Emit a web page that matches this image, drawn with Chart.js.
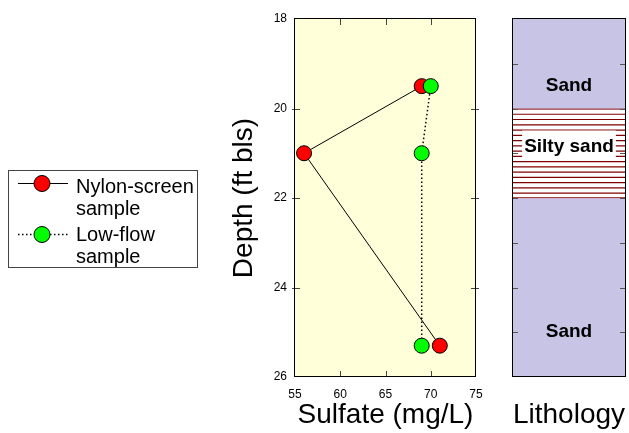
<!DOCTYPE html>
<html>
<head>
<meta charset="utf-8">
<script src="https://cdn.jsdelivr.net/npm/chart.js@4.4.0/dist/chart.umd.min.js"></script>
<style>
  html, body { margin: 0; padding: 0; background: #fff; }
  #wrap { position: relative; width: 629px; height: 433px; }
  canvas { position: absolute; left: 0; top: 0; }
</style>
</head>
<body>
<div id="wrap">
  <canvas id="sulfateChart" width="629" height="433"></canvas>
  <canvas id="lithChart" width="629" height="433"></canvas>
</div>
<script>
// sample data
const depths = [19.5, 21, 25.3];
const nylonSulfate = [69, 56, 71];
const lowFlowSulfate = [70, 69, 69];
const seriesLabels = [['Nylon-screen', 'sample'], ['Low-flow', 'sample']];

// axis ticks
const sulfateTicks = [55, 60, 65, 70, 75];
const depthTicks = [18, 20, 22, 24, 26];
const innerSulfateTicks = [60, 65, 70];
const innerDepthTicks = [20, 22, 24];

// lithology column
const layerNames = ['Sand', 'Silty sand', 'Sand'];
const layerTops = [18, 20, 22];
const layerBottoms = [20, 22, 26];
const layerHatched = [false, true, false];
const layerLabelDepths = [19.5, 20.85, 25];
const lithTicks = [19, 20, 21, 22, 23, 24, 25];

const FONT = "'Liberation Sans', Arial, Helvetica, sans-serif";
Chart.defaults.font.family = FONT;
Chart.defaults.color = '#000';

const toPoints = (xs) => xs.map((v, i) => ({ x: v, y: depths[i] }));

// plot background, frame and inward ticks
const plotFrame = {
  id: 'plotFrame',
  beforeDatasetsDraw(chart) {
    const { ctx, chartArea: a, scales: { x, y } } = chart;
    ctx.save();
    ctx.fillStyle = '#ffffda';
    ctx.fillRect(a.left, a.top, a.right - a.left, a.bottom - a.top);
    ctx.strokeStyle = '#444';
    ctx.lineWidth = 1;
    ctx.beginPath();
    innerSulfateTicks.forEach(v => {
      const px = Math.round(x.getPixelForValue(v)) + 0.5;
      ctx.moveTo(px, a.top); ctx.lineTo(px, a.top + 6);
      ctx.moveTo(px, a.bottom); ctx.lineTo(px, a.bottom - 6);
    });
    innerDepthTicks.forEach(v => {
      const py = Math.round(y.getPixelForValue(v)) + 0.5;
      ctx.moveTo(a.left - 3, py); ctx.lineTo(a.left + 5, py);
      ctx.moveTo(a.right + 3, py); ctx.lineTo(a.right - 5, py);
    });
    ctx.stroke();
    ctx.strokeStyle = '#000';
    ctx.strokeRect(a.left - 0.5, a.top - 0.5, a.right - a.left, a.bottom - a.top);
    ctx.restore();
  }
};

// boxed legend on the left
const sideLegend = {
  id: 'sideLegend',
  afterDraw(chart) {
    const { ctx } = chart;
    ctx.save();
    ctx.strokeStyle = '#444';
    ctx.lineWidth = 1;
    ctx.strokeRect(8.5, 170.5, 189, 97);
    ctx.font = `20px ${FONT}`;
    ctx.textAlign = 'left';
    ctx.textBaseline = 'alphabetic';
    chart.data.datasets.forEach((ds, i) => {
      const cy = 183.5 + i * 51;
      ctx.strokeStyle = ds.borderColor;
      ctx.lineWidth = ds.borderWidth;
      ctx.setLineDash(ds.borderDash || []);
      ctx.beginPath();
      ctx.moveTo(18, cy); ctx.lineTo(68, cy);
      ctx.stroke();
      ctx.setLineDash([]);
      ctx.beginPath();
      ctx.arc(42, cy, 8, 0, Math.PI * 2);
      ctx.fillStyle = ds.pointBackgroundColor;
      ctx.fill();
      ctx.strokeStyle = ds.pointBorderColor;
      ctx.lineWidth = 1;
      ctx.stroke();
      ctx.fillStyle = '#000';
      seriesLabels[i].forEach((t, k) => ctx.fillText(t, 76, 193 + i * 48 + k * 22));
    });
    ctx.restore();
  }
};

new Chart(document.getElementById('sulfateChart'), {
  type: 'scatter',
  data: {
    datasets: [
      {
        label: seriesLabels[0].join(' '),
        data: toPoints(nylonSulfate),
        showLine: true,
        borderColor: '#000',
        borderWidth: 1,
        pointBackgroundColor: '#ff0000',
        pointBorderColor: '#000',
        pointBorderWidth: 1,
        pointRadius: 7.5,
        order: 2,
        clip: false
      },
      {
        label: seriesLabels[1].join(' '),
        data: toPoints(lowFlowSulfate),
        showLine: true,
        borderColor: '#000',
        borderWidth: 1.5,
        borderDash: [1.5, 2.5],
        pointBackgroundColor: '#00ff00',
        pointBorderColor: '#000',
        pointBorderWidth: 1,
        pointRadius: 7.5,
        order: 1,
        clip: false
      }
    ]
  },
  options: {
    responsive: false,
    animation: false,
    events: [],
    devicePixelRatio: 1,
    layout: { padding: { left: 227, top: 19, right: 153, bottom: 0 } },
    plugins: { legend: { display: false }, tooltip: { enabled: false } },
    scales: {
      x: {
        type: 'linear',
        min: 55, max: 75,
        afterBuildTicks: s => { s.ticks = sulfateTicks.map(v => ({ value: v })); },
        afterFit: s => { s.height = 56; },
        grid: { display: false, drawTicks: false },
        border: { display: false },
        ticks: { font: { size: 12 }, padding: 10 },
        title: { display: true, text: 'Sulfate (mg/L)', font: { size: 28 }, padding: { top: 0, bottom: 1 } }
      },
      y: {
        type: 'linear',
        reverse: true,
        min: 18, max: 26,
        afterBuildTicks: s => { s.ticks = depthTicks.map(v => ({ value: v })); },
        afterFit: s => { s.width = 68; },
        grid: { display: false, drawTicks: false },
        border: { display: false },
        ticks: { font: { size: 12 }, padding: 8 },
        title: { display: true, text: 'Depth (ft bls)', font: { size: 28 }, padding: { top: 0, bottom: 0 } }
      }
    }
  },
  plugins: [plotFrame, sideLegend]
});

// hatching, labels, ticks and frame of the lithology column
const lithDecor = {
  id: 'lithDecor',
  afterDatasetsDraw(chart) {
    const { ctx, chartArea: a, scales: { y } } = chart;
    ctx.save();
    chart.data.datasets.forEach((ds, i) => {
      if (!ds.hatch) return;
      const bar = chart.getDatasetMeta(i).data[0];
      const p = bar.getProps(['x', 'y', 'base', 'width'], true);
      const top = Math.min(p.y, p.base), bot = Math.max(p.y, p.base);
      ctx.save();
      ctx.beginPath();
      ctx.rect(p.x - p.width / 2, top, p.width, bot - top);
      ctx.clip();
      ctx.strokeStyle = ds.hatch;
      ctx.lineWidth = 1.2;
      ctx.beginPath();
      for (let yy = top + 0.5; yy <= bot; yy += 5.26) {
        ctx.moveTo(p.x - p.width / 2, yy);
        ctx.lineTo(p.x + p.width / 2, yy);
      }
      ctx.stroke();
      ctx.restore();
    });
    ctx.strokeStyle = '#555';
    ctx.lineWidth = 1;
    ctx.beginPath();
    lithTicks.forEach(v => {
      const py = Math.round(y.getPixelForValue(v)) + 0.5;
      ctx.moveTo(a.left, py); ctx.lineTo(a.left + 6, py);
      ctx.moveTo(a.right, py); ctx.lineTo(a.right - 6, py);
    });
    ctx.stroke();
    ctx.font = `bold 19px ${FONT}`;
    ctx.textAlign = 'center';
    ctx.textBaseline = 'middle';
    const cx = (a.left + a.right) / 2;
    layerNames.forEach((name, i) => {
      const cy = y.getPixelForValue(layerLabelDepths[i]);
      if (layerHatched[i]) {
        const w = ctx.measureText(name).width + 4;
        ctx.fillStyle = '#fff';
        ctx.fillRect(cx - w / 2, cy - 16, w, 27);
      }
      ctx.fillStyle = '#000';
      ctx.fillText(name, cx, cy);
    });
    ctx.strokeStyle = '#000';
    ctx.strokeRect(a.left + 0.5, a.top - 0.5, a.right - a.left - 1, a.bottom - a.top);
    ctx.restore();
  }
};

new Chart(document.getElementById('lithChart'), {
  type: 'bar',
  data: {
    labels: ['Lithology'],
    datasets: layerNames.map((name, i) => ({
      label: name,
      data: [[layerTops[i], layerBottoms[i]]],
      backgroundColor: layerHatched[i] ? '#ffffff' : '#c8c4e6',
      borderColor: layerHatched[i] ? '#8b0000' : '#c8c4e6',
      borderWidth: layerHatched[i] ? 1 : 0,
      borderSkipped: false,
      hatch: layerHatched[i] ? '#800000' : null,
      barPercentage: 1,
      categoryPercentage: 1
    }))
  },
  options: {
    responsive: false,
    animation: false,
    events: [],
    devicePixelRatio: 1,
    layout: { padding: { left: 512, top: 19, right: 3, bottom: 0 } },
    plugins: { legend: { display: false }, tooltip: { enabled: false } },
    scales: {
      x: {
        stacked: true,
        afterFit: s => { s.height = 56; },
        grid: { display: false, drawTicks: false },
        border: { display: false },
        ticks: { display: false },
        title: { display: true, text: 'Lithology', font: { size: 28 }, padding: { top: 0, bottom: 1 } }
      },
      y: {
        display: false,
        reverse: true,
        min: 18, max: 26
      }
    }
  },
  plugins: [lithDecor]
});
</script>
</body>
</html>
